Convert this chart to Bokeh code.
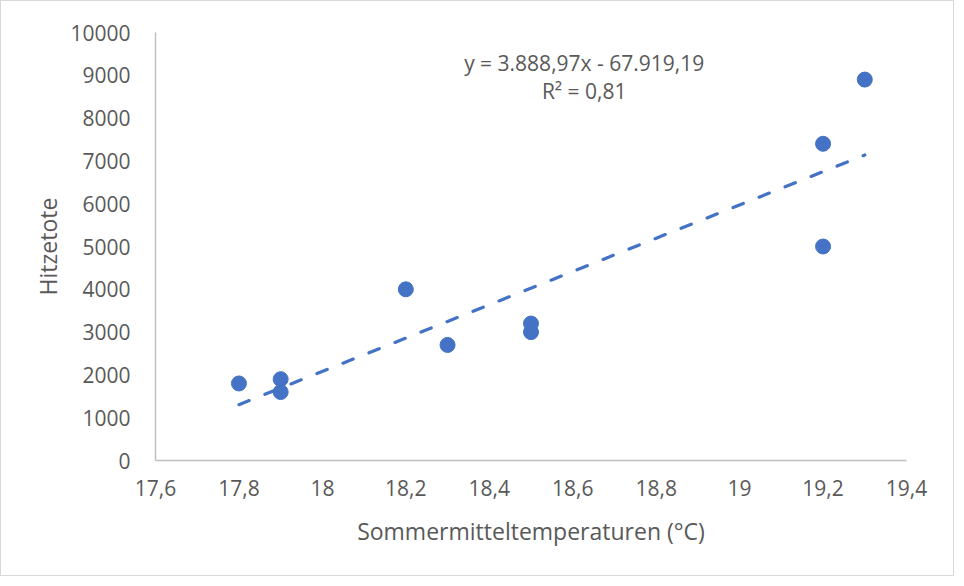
from bokeh.plotting import figure
from bokeh.models import FixedTicker, CustomJSTickFormatter, Label, ColumnDataSource
from bokeh.embed import file_html
from bokeh.resources import INLINE

# Data
temps = [17.8, 17.9, 17.9, 18.2, 18.3, 18.5, 18.5, 19.2, 19.2, 19.3]
deaths = [1800, 1900, 1600, 4000, 2700, 3200, 3000, 7400, 5000, 8900]
slope = 3888.97
intercept = -67919.19
eq_text = "y = 3.888,97x - 67.919,19"
r2_text = "R² = 0,81"
x_ticks = [17.6, 17.8, 18.0, 18.2, 18.4, 18.6, 18.8, 19.0, 19.2, 19.4]
y_ticks = [0, 1000, 2000, 3000, 4000, 5000, 6000, 7000, 8000, 9000, 10000]
x_title = "Sommermitteltemperaturen (°C)"
y_title = "Hitzetote"

FONT = "Open Sans"
TXT = "#595959"
AX = "#bfbfbf"
BLUE = "#4472C4"

p = figure(width=954, height=576, output_backend="svg", toolbar_location=None,
           x_range=(17.6, 19.4), y_range=(0, 10000))
p.styles = {"border": "1px solid #d9d9d9"}
p.min_border_left = 154
p.min_border_right = 49
p.min_border_top = 31
p.min_border_bottom = 117
p.outline_line_color = None
p.xgrid.visible = False
p.ygrid.visible = False
p.background_fill_color = "white"
p.border_fill_color = "white"

for ax in (p.xaxis[0], p.yaxis[0]):
    ax.axis_line_color = AX
    ax.axis_line_width = 1.5
    ax.major_tick_line_color = None
    ax.minor_tick_line_color = None
    ax.major_tick_out = 0
    ax.major_tick_in = 0
    ax.major_label_text_font = FONT
    ax.major_label_text_font_size = "21px"
    ax.major_label_text_color = TXT
    ax.axis_label_text_font = FONT
    ax.axis_label_text_font_size = "23px"
    ax.axis_label_text_font_style = "normal"
    ax.axis_label_text_color = TXT

p.xaxis.ticker = FixedTicker(ticks=x_ticks)
p.yaxis.ticker = FixedTicker(ticks=y_ticks)
p.xaxis.formatter = CustomJSTickFormatter(code="""
    var s = (Math.round(tick*10)/10).toString();
    return s.replace('.', ',');
""")
p.yaxis.formatter = CustomJSTickFormatter(code="return Math.round(tick).toString();")
p.xaxis.major_label_standoff = 19
p.yaxis.major_label_standoff = 25
p.xaxis.axis_label = x_title
p.yaxis.axis_label = y_title
p.xaxis.axis_label_standoff = 16
p.yaxis.axis_label_standoff = 3

# trendline
tx = [min(temps), max(temps)]
ty = [slope * v + intercept for v in tx]
p.line(tx, ty, line_color=BLUE, line_width=3.2, line_dash="11 17", line_cap="round")

src = ColumnDataSource(dict(x=temps, y=deaths))
p.scatter("x", "y", source=src, size=15, fill_color=BLUE, line_color=BLUE)

p.add_layout(Label(x=18.6275, y=9290, text=eq_text, text_align="center",
                   text_baseline="middle", text_font=FONT, text_font_size="21px",
                   text_color=TXT))
p.add_layout(Label(x=18.6275, y=8640, text=r2_text, text_align="center",
                   text_baseline="middle", text_font=FONT, text_font_size="21px",
                   text_color=TXT))

open("out.html", "w").write(file_html(p, INLINE))
